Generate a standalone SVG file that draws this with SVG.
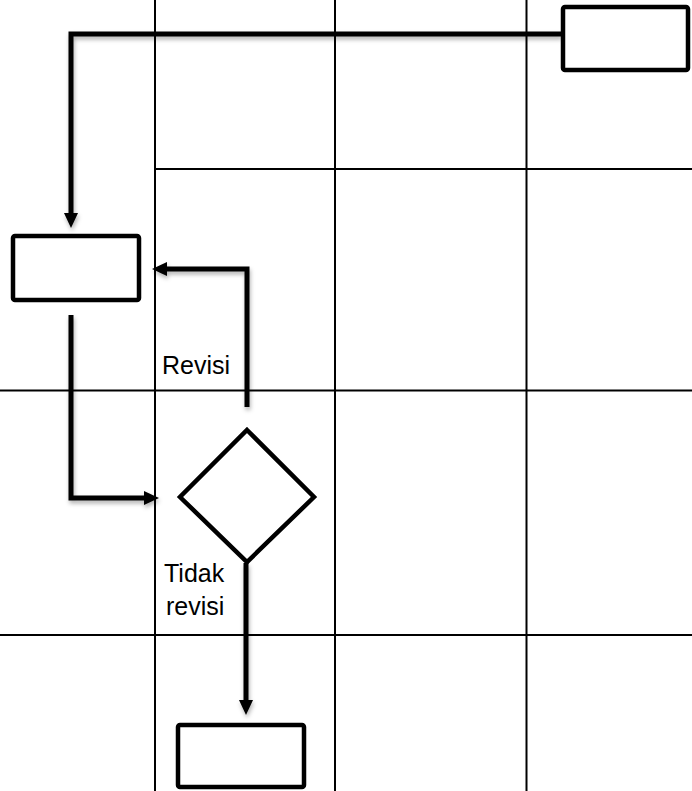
<svg xmlns="http://www.w3.org/2000/svg" width="692" height="791" viewBox="0 0 692 791">
<style>
.grid{stroke:#000;stroke-width:2;fill:none}
.node{fill:#fff;stroke:#000;stroke-width:4.5}
.conn{fill:none;stroke:#000;stroke-width:5;stroke-linejoin:miter}
.lbl{font-family:"Liberation Sans",Arial,sans-serif;font-size:25px;fill:#000}
</style>
<defs>
<marker id="arr" markerUnits="userSpaceOnUse" markerWidth="16" markerHeight="15" refX="0" refY="7" orient="auto" overflow="visible">
<path d="M0,0 L15,7 L0,14 z" fill="#000"/>
</marker>
<filter id="sh" x="-10%" y="-10%" width="120%" height="130%">
<feDropShadow dx="1" dy="3" stdDeviation="2" flood-color="#000" flood-opacity="0.3"/>
</filter>
</defs>
<rect width="692" height="791" fill="#fff"/>
<g id="grid">
<line class="grid" x1="155" y1="0" x2="155" y2="791"/>
<line class="grid" x1="335" y1="0" x2="335" y2="791"/>
<line class="grid" x1="526.5" y1="0" x2="526.5" y2="791"/>
<line class="grid" x1="155" y1="169" x2="692" y2="169"/>
<line class="grid" x1="0" y1="390.5" x2="692" y2="390.5"/>
<line class="grid" x1="0" y1="635" x2="692" y2="635"/>
</g>
<g id="connectors" filter="url(#sh)">
<path class="conn" d="M561,34 H71 V213" marker-end="url(#arr)"/>
<path class="conn" d="M247,407 V269 H167" marker-end="url(#arr)"/>
<path class="conn" d="M71,315 V498 H144" marker-end="url(#arr)"/>
<path class="conn" d="M246,563 V700" marker-end="url(#arr)"/>
</g>
<g id="box-top">
<rect class="node" x="563" y="7" width="125" height="63" rx="2"/>
</g>
<g id="box-left">
<rect class="node" x="13" y="236" width="126" height="64" rx="2"/>
</g>
<g id="decision">
<polygon class="node" points="247,430 314,497 247,562 180,497"/>
</g>
<g id="box-bottom">
<rect class="node" x="178" y="725" width="126" height="62" rx="2"/>
</g>
<g id="labels">
<text class="lbl" x="162" y="374">Revisi</text>
<text class="lbl" x="164" y="582">Tidak</text>
<text class="lbl" x="166" y="615">revisi</text>
</g>
</svg>
